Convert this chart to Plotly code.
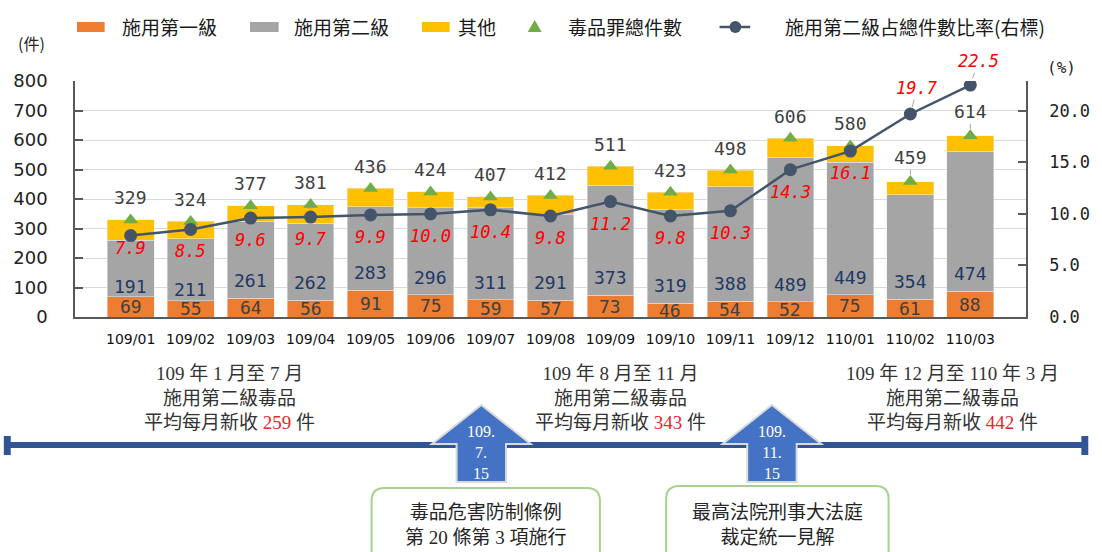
import plotly.graph_objects as go

# ---------------- data ----------------
months = ["109/01", "109/02", "109/03", "109/04", "109/05", "109/06", "109/07", "109/08",
          "109/09", "109/10", "109/11", "109/12", "110/01", "110/02", "110/03"]
level1 = [69, 55, 64, 56, 91, 75, 59, 57, 73, 46, 54, 52, 75, 61, 88]
level2 = [191, 211, 261, 262, 283, 296, 311, 291, 373, 319, 388, 489, 449, 354, 474]
totals = [329, 324, 377, 381, 436, 424, 407, 412, 511, 423, 498, 606, 580, 459, 614]
ratio = [7.9, 8.5, 9.6, 9.7, 9.9, 10.0, 10.4, 9.8, 11.2, 9.8, 10.3, 14.3, 16.1, 19.7, 22.5]
others = [t - a - b for t, a, b in zip(totals, level1, level2)]

left_ticks = list(range(0, 801, 100))
right_ticks = [0, 5, 10, 15, 20]

legend_names = ["施用第一級", "施用第二級", "其他", "毒品罪總件數", "施用第二級占總件數比率(右標)"]
period_titles = ["109 年 1 月至 7 月", "109 年 8 月至 11 月", "109 年 12 月至 110 年 3 月"]
period_avgs = [259, 343, 442]
event_dates = ["109.<br>7.<br>15", "109.<br>11.<br>15"]
event_texts = ["毒品危害防制條例<br>第 20 條第 3 項施行", "最高法院刑事大法庭<br>裁定統一見解"]

# ---------------- styles ----------------
C_L1 = "#ED7D31"
C_L2 = "#A5A5A5"
C_OT = "#FFC000"
C_TRI = "#70AD47"
C_LINE = "#44546A"
C_BLUE = "#4472C4"
C_TIMELINE = "#2F5597"
CJK = "Noto Sans CJK TC"
MONO = "DejaVu Sans Mono"
SERIF = "Liberation Serif, Noto Sans CJK TC"

W, H = 1102, 552
ML, MR, MT, MB = 75, 65, 81, 235


def PX(x):
    return (x - ML) / (W - ML - MR)


def PY(y):
    return (H - MB - y) / (H - MT - MB)


def paper_text(x, y, text, font, align="center"):
    return dict(x=PX(x), y=PY(y), xref="paper", yref="paper", text=text, showarrow=False,
                xanchor="center", yanchor="middle", align=align, font=font)


fig = go.Figure()
fig.add_trace(go.Bar(x=months, y=level1, name=legend_names[0], marker_color=C_L1, showlegend=False))
fig.add_trace(go.Bar(x=months, y=level2, name=legend_names[1], marker_color=C_L2, showlegend=False))
fig.add_trace(go.Bar(x=months, y=others, name=legend_names[2], marker_color=C_OT, showlegend=False))
fig.add_trace(go.Scatter(x=months, y=totals, name=legend_names[3], mode="markers",
                         marker=dict(symbol="triangle-up", size=13, color=C_TRI), showlegend=False))
fig.add_trace(go.Scatter(x=months, y=ratio, name=legend_names[4], mode="lines+markers", yaxis="y2",
                         line=dict(color=C_LINE, width=2.5),
                         marker=dict(symbol="circle", size=13, color=C_LINE), showlegend=False))

ann = []
# level-1 labels (centre of orange segment)
for m, v in zip(months, level1):
    ann.append(dict(x=m, y=v / 2, xref="x", yref="y", text=str(v), showarrow=False,
                    font=dict(family=MONO, size=18, color="#404040")))
# level-2 labels (near base of grey segment)
l2_shift = [10, 11] + [17.5] * 13
for m, a, v, s in zip(months, level1, level2, l2_shift):
    ann.append(dict(x=m, y=a, xref="x", yref="y", text=str(v), showarrow=False, yshift=s,
                    font=dict(family=MONO, size=18, color="#1F3864")))
# total labels
arrow_totals = {13, 14}
for i, (m, v) in enumerate(zip(months, totals)):
    if i in arrow_totals:
        ann.append(dict(x=m, y=v, xref="x", yref="y", text=str(v), showarrow=True,
                        ax=0, ay=-24, arrowhead=0, arrowwidth=1, arrowcolor="#A6A6A6", standoff=7,
                        font=dict(family=MONO, size=18, color="#404040")))
    else:
        ann.append(dict(x=m, y=v, xref="x", yref="y", text=str(v), showarrow=False, yshift=22,
                        font=dict(family=MONO, size=18, color="#404040")))
# ratio labels
r_shift = [-12] + [-22] * 12
for i, (m, v) in enumerate(zip(months, ratio)):
    f = dict(family=MONO, size=17, color="#FF0000", style="italic")
    if i < 13:
        ann.append(dict(x=m, y=v, xref="x", yref="y2", text=f"{v:.1f}", showarrow=False,
                        yshift=r_shift[i], font=f))
    else:
        ann.append(dict(x=m, y=v, xref="x", yref="y2", text=f"{v:.1f}", showarrow=True,
                        ax=7 if i == 13 else 8, ay=-26 if i == 13 else -24, arrowhead=0,
                        arrowwidth=1, arrowcolor="#A6A6A6", standoff=7, font=f))

# axis unit labels
ann.append(paper_text(31, 43, "(件)", dict(family=CJK, size=16, color="#262626")))
ann.append(paper_text(1073, 68, "(%)", dict(family=MONO, size=16, color="#262626")))

# ---------------- manual legend ----------------
shapes = []
leg_y = 27
rects = [(77, 105, C_L1), (252, 281, C_L2), (426, 454, C_OT)]
for x0, x1, c in rects:
    shapes.append(dict(type="rect", xref="paper", yref="paper", x0=PX(x0), x1=PX(x1),
                       y0=PY(leg_y + 5), y1=PY(leg_y - 5), fillcolor=c, line=dict(width=0)))
tri = [(540, leg_y - 7), (547, leg_y + 5), (533, leg_y + 5)]
shapes.append(dict(type="path", xref="paper", yref="paper",
                   path="M" + " L".join(f"{PX(x)},{PY(y)}" for x, y in tri) + " Z",
                   fillcolor=C_TRI, line=dict(width=0)))
shapes.append(dict(type="line", xref="paper", yref="paper", x0=PX(727), x1=PX(758),
                   y0=PY(leg_y), y1=PY(leg_y), line=dict(color=C_LINE, width=2.5)))
shapes.append(dict(type="circle", xref="paper", yref="paper", x0=PX(737), x1=PX(749),
                   y0=PY(leg_y + 6), y1=PY(leg_y - 6), fillcolor=C_LINE, line=dict(width=0)))
leg_text_x = [171, 345, 482, 631, 925]
for name, cx in zip(legend_names, leg_text_x):
    ann.append(paper_text(cx, leg_y, name, dict(family=CJK, size=19, color="#1A1A1A")))

# ---------------- bottom timeline panel ----------------
period_cx = [231, 627, 963]
for title, avg, cx in zip(period_titles, period_avgs, period_cx):
    txt = (f"{title}<br>施用第二級毒品<br>平均每月新收 "
           f"<span style='color:#E8262B'>{avg}</span> 件")
    ann.append(paper_text(cx, 398, txt, dict(family=SERIF, size=19, color="#333333")))

# timeline bar and end caps
shapes.append(dict(type="line", xref="paper", yref="paper", x0=PX(6), x1=PX(1097),
                   y0=PY(445), y1=PY(445), line=dict(color=C_TIMELINE, width=6)))
for x0, x1 in [(3, 10), (1093, 1100)]:
    shapes.append(dict(type="rect", xref="paper", yref="paper", x0=PX(x0), x1=PX(x1),
                       y0=PY(455), y1=PY(436), fillcolor=C_TIMELINE, line=dict(width=0)))

# block arrows
arrow_cx = [486, 780]
for cx, d in zip(arrow_cx, event_dates):
    pts = [(cx, 405), (cx + 50, 444), (cx + 25, 444), (cx + 25, 482), (cx - 25, 482),
           (cx - 25, 444), (cx - 50, 444)]
    shapes.append(dict(type="path", xref="paper", yref="paper",
                       path="M" + " L".join(f"{PX(x)},{PY(y)}" for x, y in pts) + " Z",
                       fillcolor=C_BLUE, line=dict(color="#DADADA", width=2)))
    ann.append(paper_text(cx, 452, d, dict(family="Liberation Serif", size=16, color="white")))

# rounded boxes
boxes = [(375, 606, 488), (673, 898, 486)]
for (x0, x1, y0), t in zip(boxes, event_texts):
    r = 13
    y1 = 560
    p = (f"M{PX(x0 + r)},{PY(y0)} L{PX(x1 - r)},{PY(y0)} Q{PX(x1)},{PY(y0)} {PX(x1)},{PY(y0 + r)} "
         f"L{PX(x1)},{PY(y1)} L{PX(x0)},{PY(y1)} L{PX(x0)},{PY(y0 + r)} "
         f"Q{PX(x0)},{PY(y0)} {PX(x0 + r)},{PY(y0)} Z")
    shapes.append(dict(type="path", xref="paper", yref="paper", path=p,
                       fillcolor="white", line=dict(color="#A9D18E", width=2)))
    ann.append(paper_text((x0 + x1) / 2, 525, t, dict(family=SERIF, size=19, color="#262626")))

fig.update_layout(
    width=W, height=H,
    margin=dict(l=ML, r=MR, t=MT, b=MB, pad=0),
    paper_bgcolor="white", plot_bgcolor="white",
    barmode="stack", bargap=0.22,
    font=dict(family=CJK, color="#262626"),
    showlegend=False,
    xaxis=dict(type="category", showline=True, linecolor="#595959", linewidth=1.5,
               ticks="", tickfont=dict(family="DejaVu Sans", size=14, color="#111111"),
               ticklabelstandoff=8),
    yaxis=dict(range=[0, 800], tickvals=left_ticks, showgrid=True, gridcolor="#D9D9D9",
               gridwidth=1.3, showline=True, linecolor="#595959", linewidth=1.5,
               ticks="inside", ticklen=8, tickcolor="#595959", tickwidth=1.5,
               tickfont=dict(family="DejaVu Sans", size=18, color="#222222"),
               ticklabelstandoff=22, zeroline=False),
    yaxis2=dict(range=[0, 22.9], tickvals=right_ticks, tickformat=".1f", overlaying="y",
                side="right", showgrid=False, showline=True, linecolor="#595959", linewidth=1.5,
                ticks="inside", ticklen=8, tickcolor="#595959", tickwidth=1.5,
                tickfont=dict(family=MONO, size=17, color="#222222"),
                ticklabelstandoff=18, zeroline=False),
    annotations=ann,
    shapes=shapes,
)

fig.write_html("out.html", config={"displayModeBar": False},
               post_script="document.body.style.margin='0';")
